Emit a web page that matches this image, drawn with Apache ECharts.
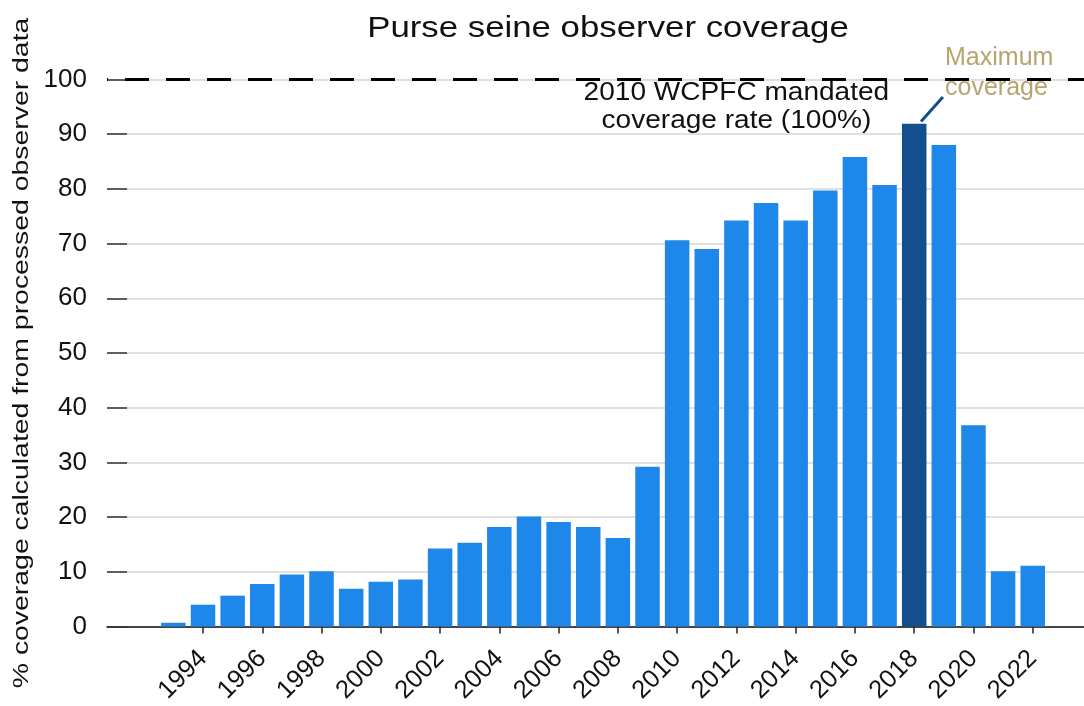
<!DOCTYPE html>
<html>
<head>
<meta charset="utf-8">
<script src="https://cdn.jsdelivr.net/npm/echarts@6/dist/echarts.min.js"></script>
<style>
html,body{margin:0;padding:0;background:#fff;}
#chart{width:1084px;height:706px;}
</style>
</head>
<body>
<div id="chart"></div>
<script>
const years = [1993,1994,1995,1996,1997,1998,1999,2000,2001,2002,2003,2004,2005,2006,2007,2008,2009,2010,2011,2012,2013,2014,2015,2016,2017,2018,2019,2020,2021,2022];
const coverage = [0.7,4.0,5.65,7.8,9.5,10.1,6.9,8.2,8.6,14.25,15.3,18.2,20.1,19.1,18.2,16.2,29.2,70.6,69.0,74.2,77.4,74.2,79.7,85.8,80.7,91.9,88.0,36.8,10.1,11.1];
const tickYears = [1994,1996,1998,2000,2002,2004,2006,2008,2010,2012,2014,2016,2018,2020,2022];
const yTicks = [0,10,20,30,40,50,60,70,80,90,100];
const highlightYear = 2018;
const mandatedRate = 100;

const titleText = 'Purse seine observer coverage';
const yName = '% coverage calculated from processed observer data';
const annoLines = ['2010 WCPFC mandated', 'coverage rate (100%)'];
const maxLines = ['Maximum', 'coverage'];

// The reference renders some texts with wider glyph advances; widen those along their own direction.
const STRETCH = new Map([[titleText,1.2],[yName,1.32],[annoLines[0],1.1],[annoLines[1],1.1]]);
(function(){
  const P = CanvasRenderingContext2D.prototype;
  const f = P.fillText, m = P.measureText;
  P.fillText = function(t,x,y){
    const s = STRETCH.get(String(t));
    if(!s) return f.apply(this, arguments);
    this.save(); this.translate(x,y); this.scale(s,1); f.call(this,t,0,0); this.restore();
  };
  P.measureText = function(t){
    const r = m.call(this,t);
    const s = STRETCH.get(String(t));
    if(!s) return r;
    return {width:r.width*s,
      actualBoundingBoxLeft:r.actualBoundingBoxLeft*s, actualBoundingBoxRight:r.actualBoundingBoxRight*s,
      actualBoundingBoxAscent:r.actualBoundingBoxAscent, actualBoundingBoxDescent:r.actualBoundingBoxDescent,
      fontBoundingBoxAscent:r.fontBoundingBoxAscent, fontBoundingBoxDescent:r.fontBoundingBoxDescent};
  };
})();

const FONT = '"Liberation Sans", Arial, sans-serif';
const chart = echarts.init(document.getElementById('chart'), null, {renderer:'canvas'});

const barData = years.map((y,i)=>({
  value:[y, coverage[i]],
  itemStyle:{color: y===highlightYear ? '#134f8c' : '#1e88ea'}
}));
const maxIdx = years.indexOf(highlightYear);

chart.setOption({
  animation:false,
  backgroundColor:'#ffffff',
  title:{
    text:titleText,
    left:603, top:9, textAlign:'center',
    textStyle:{fontFamily:FONT, fontSize:29, fontWeight:'normal', color:'#111'}
  },
  grid:{left:107, right:0, top:79.4, bottom:77.8, containLabel:false},
  xAxis:{
    type:'value',
    min:1990.76, max:2023.73,
    splitLine:{show:false},
    axisLine:{show:true, lineStyle:{color:'#111', width:1.5}},
    axisTick:{show:true, length:7, customValues:tickYears, lineStyle:{color:'#222', width:1.5}},
    axisLabel:{
      customValues:tickYears, rotate:45, margin:28,
      fontFamily:FONT, fontSize:25.5, color:'#111',
      formatter:v=>String(v)
    }
  },
  yAxis:{
    type:'value', min:yTicks[0], max:yTicks[yTicks.length-1], interval:10,
    name:yName,
    nameLocation:'middle', nameGap:72, nameRotate:90,
    nameTextStyle:{fontFamily:FONT, fontSize:21.5, color:'#111'},
    axisLine:{show:false},
    axisTick:{show:true, inside:true, length:20, lineStyle:{color:'#333', width:1.5}},
    axisLabel:{margin:20, fontFamily:FONT, fontSize:26, color:'#111'},
    splitLine:{show:true, lineStyle:{color:'#d6d6d6', width:1.5}}
  },
  series:[{
    type:'bar',
    data:barData,
    barWidth:24.5,
    markLine:{
      silent:true, symbol:'none',
      label:{show:false},
      data:[
        {yAxis:mandatedRate, lineStyle:{color:'#000', width:3, type:[24,17], dashOffset:23}},
        [
          {coord:[highlightYear+0.23, coverage[maxIdx]+0.4], lineStyle:{color:'#134f8c', width:3, type:'solid'}},
          {coord:[highlightYear+0.97, 96.8]}
        ]
      ]
    },
    markPoint:{
      silent:true, symbol:'circle', symbolSize:0,
      data:[
        {coord:[2012, 94.9], label:{show:true, position:'inside',
          formatter:annoLines.join('\n'),
          fontFamily:FONT, fontSize:25.5, lineHeight:28, color:'#111', align:'center'}},
        {coord:[2019.04, 100], label:{show:true, position:'inside', offset:[0,-6.5],
          formatter:maxLines.join('\n'), align:'left',
          fontFamily:FONT, fontSize:25, lineHeight:30, color:'#b8a46e'}}
      ]
    }
  }]
});
</script>
</body>
</html>
